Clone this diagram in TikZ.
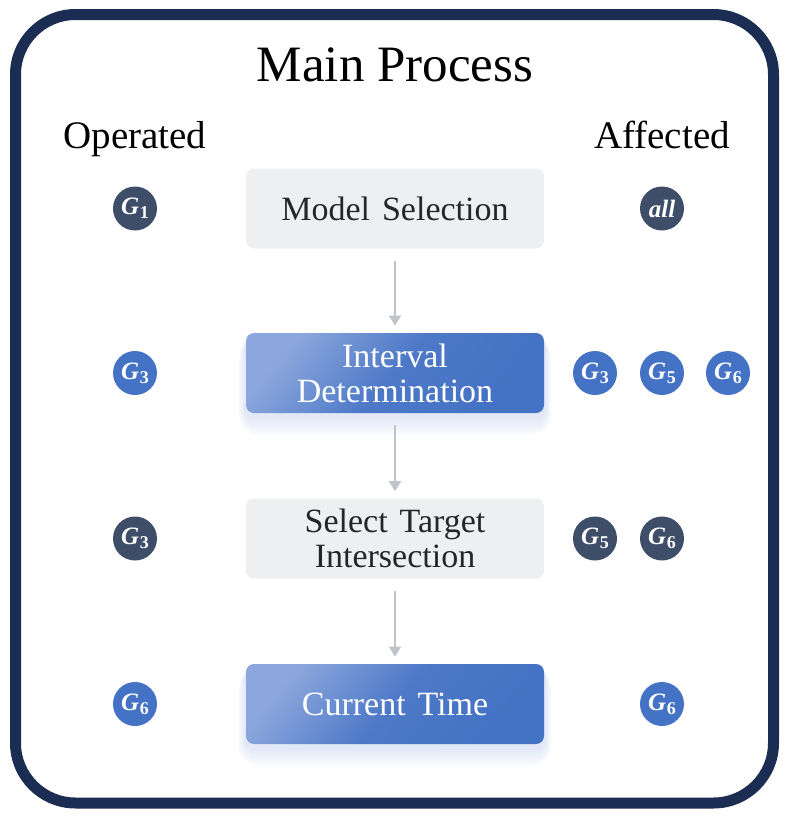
\documentclass[tikz,border=0pt]{standalone}
\usepackage{amsmath}
\usepackage{fontspec}
\setmainfont{Liberation Serif}
\usepackage{tikz}
\usetikzlibrary{positioning,arrows.meta,calc,backgrounds}

\definecolor{framenavy}{HTML}{1B2D52}
\definecolor{slate}{HTML}{3E4D68}
\definecolor{mainblue}{HTML}{4472C4}
\definecolor{lightblue}{HTML}{8CA7DD}
\definecolor{boxgray}{HTML}{EEEFF1}
\definecolor{arrgray}{HTML}{BFC3CA}
\definecolor{shadowblue}{HTML}{9DB2E0}

\newcommand{\grp}[1]{\textbf{\textit{G}}\kern0.3pt\raisebox{-2pt}{\fontsize{9}{9}\selectfont\textbf{#1}}}

\tikzset{
  step box/.style={rounded corners=4pt, minimum width=149pt, minimum height=40pt,
    align=center, font=\fontsize{17}{17.5}\selectfont},
  graybox/.style={step box, fill=boxgray, text=black!85},
  bluebox/.style={step box, left color=lightblue, right color=mainblue,
    middle color=mainblue!88!lightblue, shading angle=50, text=white},
  dot/.style={circle, minimum size=22pt, inner sep=0pt, text=white,
    font=\fontsize{12.5}{13}\selectfont},
  darkdot/.style={dot, fill=slate},
  bluedot/.style={dot, fill=mainblue},
  flow/.style={-{Triangle[width=6pt,length=5pt]}, draw=arrgray, line width=1pt,
    shorten <=6pt, shorten >=3.5pt},
  heading/.style={anchor=base, font=\fontsize{19.5}{22}\selectfont}
}

\begin{document}
\begin{tikzpicture}[x=0.5pt,y=-0.5pt]
  \useasboundingbox (0,0) rectangle (788,816);
  \draw[framenavy, line width=5.5pt, rounded corners=30pt] (15.5,14.5) rectangle (773.5,803);

  \node[anchor=base] (title) at (395,81) {\fontsize{25.5}{28}\selectfont Main\kern0.25em Process};
  \node[heading] (op) at (135,148) {Operated};
  \node[heading] (af) at (662,148) {Affected};

  % main steps
  \node[graybox] (a) at (395,208.5) {Model\kern0.1em\ Selection};
  \node[bluebox] (b) at (395,373) {Interval\\Determination};
  \node[graybox] (c) at (395,538.5) {Select\kern0.1em\ Target\\Intersection};
  \node[bluebox] (d) at (395,704) {Current\kern0.1em\ Time};

  \begin{scope}[on background layer]
    \foreach \n in {b,d}
      \foreach \i in {1,...,8}
        \fill[shadowblue, opacity=0.045, rounded corners=4pt+\i*0.8pt]
          ($(\n.north west)+(-0.9*\i,1+0.8*\i)$) rectangle ($(\n.south east)+(0.9*\i,3+2.4*\i)$);
  \end{scope}

  \draw[flow] (a) -- (b);
  \draw[flow] (b) -- (c);
  \draw[flow] (c) -- (d);

  % operated groups
  \node[darkdot] (o1) at (135,208.5) {\grp{1}};
  \node[bluedot] (o2) at (135,373) {\grp{3}};
  \node[darkdot] (o3) at (135,538.5) {\grp{3}};
  \node[bluedot] (o4) at (135,704) {\grp{6}};

  % affected groups
  \node[darkdot] (r1) at (662,208.5) {\textbf{\textit{all}}};
  \node[bluedot] (r2a) at (595,373) {\grp{3}};
  \node[bluedot] (r2b) at (662,373) {\grp{5}};
  \node[bluedot] (r2c) at (728,373) {\grp{6}};
  \node[darkdot] (r3a) at (595,538.5) {\grp{5}};
  \node[darkdot] (r3b) at (662,538.5) {\grp{6}};
  \node[bluedot] (r4) at (662,704) {\grp{6}};
\end{tikzpicture}
\end{document}
